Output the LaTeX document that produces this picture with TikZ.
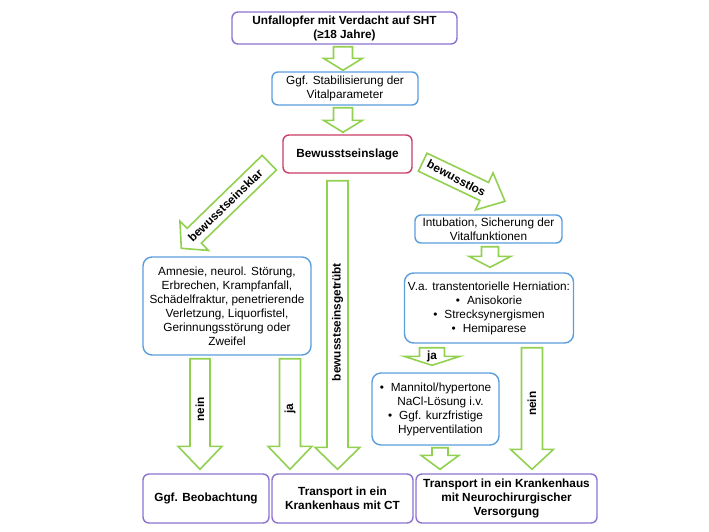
\documentclass[tikz,border=0pt]{standalone}
\usepackage{fontspec}
\setmainfont{Liberation Sans}
\usepackage{tikz}
\usetikzlibrary{calc, positioning}

\definecolor{boxpurple}{RGB}{140,115,210}
\definecolor{boxblue}{RGB}{90,158,222}
\definecolor{boxred}{RGB}{200,62,102}
\definecolor{arrowgreen}{RGB}{146,208,80}

% block arrow: [size/label options]{start}{tip}{label}
\newcommand{\garrow}[4][]{%
  \begin{scope}[arrow size={10}{21}{22}, label rot=0, label pos=0.5, label name=ga-label, #1]
    \coordinate (ga-s) at #2;
    \coordinate (ga-e) at #3;
    \coordinate (ga-m) at ($(ga-e)!\galen pt!(ga-s)$);
    \draw[garrowline] ($(ga-s)!\gashaft pt!90:(ga-e)$) -- ($(ga-m)!\gashaft pt!90:(ga-e)$)
      -- ($(ga-m)!\gahead pt!90:(ga-e)$) -- (ga-e) -- ($(ga-m)!\gahead pt!-90:(ga-e)$)
      -- ($(ga-m)!\gashaft pt!-90:(ga-e)$) -- ($(ga-s)!\gashaft pt!-90:(ga-e)$) -- cycle;
    \node[arrowtext, rotate=\garot] (\ganame) at ($(ga-s)!\gapos!(ga-e)$) {#4};
  \end{scope}}

\begin{document}
\begin{tikzpicture}[x=1pt, y=-1pt]
                \tikzset{
                  basebox/.style={
                    rectangle,
                    rounded corners=6pt,
                    draw,
                    line width=1.4pt,
                    fill=white,
                    align=center,
                    inner sep=0pt,
                    font=\fontsize{11.8}{14}\selectfont,
                  },
                  startbox/.style={basebox, draw=boxpurple, font=\fontsize{11.8}{14}\selectfont\bfseries},
                  endbox/.style={basebox, draw=boxpurple, font=\fontsize{11.8}{14}\selectfont\bfseries, minimum height=49pt},
                  infobox/.style={basebox, draw=boxblue, rounded corners=9pt},
                  lagebox/.style={basebox, draw=boxred, font=\fontsize{11.8}{14}\selectfont\bfseries},
                  garrowline/.style={draw=arrowgreen, line width=1.6pt, fill=white, line join=miter},
                  arrowtext/.style={inner sep=0pt, font=\fontsize{11.8}{14}\selectfont\bfseries},
                  arrow size/.code n args={3}{\def\gashaft{#1}\def\gahead{#2}\def\galen{#3}},
                  label rot/.code={\def\garot{#1}},
                  label pos/.code={\def\gapos{#1}},
                  label name/.code={\def\ganame{#1}},
                }
                \useasboundingbox (0,0) rectangle (709,531);

                \node[startbox, minimum width=225pt, minimum height=32pt] (unfall) at (344.5,28)
                  {Unfallopfer mit Verdacht auf SHT\\(≥18 Jahre)};
                \node[infobox, rounded corners=6pt, minimum width=146pt, minimum height=33pt] (stabil) at (345,88.5)
                  {Ggf. Stabilisierung der\\Vitalparameter};
                \node[lagebox, minimum width=129pt, minimum height=38pt] (lage) at (347.5,154) {Bewusstseinslage};
                \node[infobox, minimum width=168pt, minimum height=98pt] (symptome) at (227,306)
                  {Amnesie, neurol. Störung,\\Erbrechen, Krampfanfall,\\Schädelfraktur, penetrierende\\Verletzung, Liquorfistel,\\Gerinnungsstörung oder\\Zweifel};
                \node[infobox, rounded corners=6pt, minimum width=147pt, minimum height=28pt] (intub) at (488.5,229)
                  {Intubation, Sicherung der\\Vitalfunktionen};
                \node[infobox, minimum width=169pt, minimum height=70pt] (hernia) at (489,308)
                  {V.a. transtentorielle Herniation:\\•\hspace{7pt}Anisokorie\\•\hspace{7pt}Strecksynergismen\\•\hspace{7pt}Hemiparese};
                \node[infobox, minimum width=127pt, minimum height=72pt] (mannit) at (435.5,409)
                  {•\hspace{7pt}Mannitol/hypertone\\\hspace*{10pt}NaCl-Lösung i.v.\\•\hspace{7pt}Ggf. kurzfristige\\\hspace*{10pt}Hyperventilation};
                \node[endbox, minimum width=126pt] (beob) at (206,498.5) {Ggf. Beobachtung};
                \node[endbox, minimum width=141pt] (ct) at (342.5,498.5) {Transport in ein\\Krankenhaus mit CT};
                \node[endbox, minimum width=181pt] (neuro) at (506.5,498.5)
                  {Transport in ein Krankenhaus\\mit Neurochirurgischer\\Versorgung};

                % block arrows
                \garrow[arrow size={9.5}{19.5}{12}, label name=a-stabil]{([shift={(-1.5,2)}]unfall.south)}{([shift={(-2,-1)}]stabil.north)}{}
                \garrow[arrow size={9.5}{19.5}{12}, label name=a-lage]{([shift={(-2,2)}]stabil.south)}{([shift={(-4.5,-2)}]lage.north)}{}
                \garrow[arrow size={10.25}{20.5}{18}, label rot=44, label name=a-klar]{([shift={(-13,-11)}]lage.south west)}{([shift={(39,-8)}]symptome.north west)}{bewusstseinsklar}
                \garrow[arrow size={10.5}{22.5}{22}, label rot=90, label pos=0.49, label name=a-getruebt]{([shift={(-10,7)}]lage.south)}{([shift={(-5,-4)}]ct.north)}{bewusstseinsgetrübt}
                \garrow[arrow size={10}{20.5}{23}, label rot=-28, label pos=0.41, label name=a-los]{([shift={(10,-11.5)}]lage.south east)}{([shift={(16.5,-13)}]intub.north)}{bewusstlos}
                \garrow[arrow size={8.5}{21}{11}, label name=a-hernia]{([shift={(1.5,3)}]intub.south)}{([shift={(1,-5)}]hernia.north)}{}
                \garrow[arrow size={12.5}{28}{9}, label pos=0.5, label name=a-ja-r]{([shift={(-57,4)}]hernia.south)}{([shift={(-3.5,-7)}]mannit.north)}{ja}
                \garrow[arrow size={8}{19}{14}, label name=a-mannit]{([shift={(4.5,2)}]mannit.south)}{([shift={(-66.5,-4)}]neuro.north)}{}
                \garrow[arrow size={10.5}{21.5}{20}, label rot=90, label pos=0.46, label name=a-nein-r]{([shift={(43,4)}]hernia.south)}{([shift={(25.5,-4)}]neuro.north)}{nein}
                \garrow[arrow size={10}{22}{23}, label rot=90, label pos=0.46, label name=a-nein-l]{([shift={(-27,3)}]symptome.south)}{([shift={(-6,-4)}]beob.north)}{nein}
                \garrow[arrow size={10.5}{22}{23}, label rot=90, label pos=0.45, label name=a-ja-l]{([shift={(63,3)}]symptome.south)}{([shift={(-52.5,-4)}]ct.north)}{ja}
              \end{tikzpicture}
\end{document}
